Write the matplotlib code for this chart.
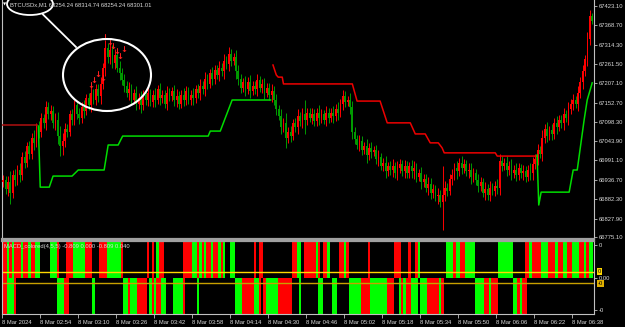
import matplotlib
matplotlib.use("Agg")
import matplotlib.pyplot as plt
from matplotlib.patches import Ellipse
import numpy as np

# ---- data (1 bar = 1 minute, 02:38 .. 06:46) ----
first_open = 66930
closes = [
    66936, 66910, 66930, 66900, 66950, 66935, 66965, 66950, 67000, 66985,
    67030, 67010, 67055, 67040, 67085, 67070, 67110, 67095, 67140, 67120,
    67130, 67095, 67105, 67060, 67030, 67045, 67080, 67070, 67120, 67105,
    67145, 67120, 67110, 67140, 67130, 67165, 67145, 67180, 67160, 67190,
    67170, 67205, 67250, 67305, 67280, 67300, 67265, 67285, 67250, 67235,
    67215, 67200, 67180, 67190, 67160, 67180, 67150, 67165, 67145, 67175,
    67160, 67180, 67155, 67175, 67160, 67190, 67165, 67175, 67150, 67180,
    67170, 67185, 67160, 67170, 67150, 67175, 67160, 67185, 67160, 67175,
    67165, 67190, 67180, 67200, 67190, 67220, 67205, 67235, 67220, 67245,
    67230, 67250, 67240, 67270, 67260, 67290, 67270, 67280, 67240, 67220,
    67195, 67210, 67190, 67210, 67185, 67200, 67190, 67215, 67195, 67205,
    67180, 67195, 67175, 67185, 67160, 67135, 67115, 67085, 67095, 67055,
    67070, 67060, 67095, 67085, 67115, 67100, 67120, 67105, 67125, 67110,
    67120, 67100, 67125, 67110, 67120, 67105, 67125, 67110, 67125, 67115,
    67135, 67125, 67150, 67170, 67155, 67160, 67140, 67070, 67050, 67035,
    67045, 67020, 67030, 67005, 67025, 67015, 67020, 66995, 67000, 66975,
    66985, 66960, 66975, 66965, 66975, 66955, 66970, 66980, 66960, 66975,
    66955, 66975, 66960, 66970, 66945, 66955, 66930, 66940, 66915, 66925,
    66900, 66910, 66890, 66895, 66875, 66895, 66915, 66905, 66940, 66950,
    66970, 66960, 66985, 66970, 66980, 66960, 66965, 66945, 66955, 66935,
    66920, 66930, 66900, 66910, 66895, 66915, 66905, 66920, 66915, 66990,
    66975, 66985, 66965, 66975, 66955, 66965, 66950, 66970, 66955, 66960,
    66945, 66965, 66955, 66980, 66995, 67020, 67010, 67055, 67080, 67060,
    67075, 67065, 67095, 67085, 67105, 67095, 67120, 67110, 67135, 67150,
    67160, 67150, 67180, 67210, 67240, 67275, 67330, 67395, 67380,
]
wicks = [
    14, 12, 18, 30, 14, 16, 12, 20, 14, 16,
    12, 16, 14, 20, 12, 16, 14, 12, 18, 14,
    16, 12, 20, 22, 28, 24, 16, 14, 12, 16,
    14, 12, 18, 14, 20, 12, 14, 18, 12, 14,
    16, 20, 14, 22, 16, 20, 14, 18, 12, 20,
    14, 18, 12, 20, 14, 12, 18, 14, 20, 12,
    14, 18, 12, 14, 20, 12, 18, 14, 12, 18,
    14, 12, 18, 20, 14, 12, 18, 14, 12, 14,
    18, 12, 14, 20, 12, 18, 14, 12, 18, 14,
    12, 18, 14, 20, 12, 18, 14, 12, 20, 18,
    14, 12, 18, 14, 20, 12, 14, 18, 12, 14,
    18, 12, 14, 20, 14, 18, 12, 20, 14, 30,
    14, 18, 12, 14, 20, 12, 18, 40, 14, 12,
    18, 14, 12, 20, 14, 12, 18, 14, 12, 18,
    14, 20, 12, 18, 14, 12, 20, 18, 14, 12,
    18, 14, 12, 20, 14, 18, 12, 14, 20, 12,
    14, 18, 12, 14, 20, 12, 18, 14, 12, 18,
    14, 12, 18, 20, 14, 12, 18, 14, 12, 20,
    18, 14, 12, 20, 14, 80, 18, 14, 12, 18,
    14, 20, 12, 18, 14, 12, 18, 20, 14, 12,
    18, 14, 12, 20, 14, 18, 12, 14, 18, 20,
    14, 12, 18, 14, 20, 12, 18, 14, 12, 18,
    14, 12, 18, 20, 14, 18, 12, 20, 14, 18,
    12, 18, 14, 20, 12, 14, 18, 12, 20, 14,
    18, 12, 20, 14, 18, 12, 20, 16, 8,
]

# trailing stop lines (bar, price) vertices
red_old = [(-0.5, 67090), (14.4, 67090)]
green_a = [(14.8, 67087), (15.6, 66916), (19.4, 66916), (21.0, 66947), (29.0, 66947),
           (31.6, 66964), (42.5, 66964), (44.2, 67034), (48.4, 67034), (50.3, 67059),
           (86.3, 67059), (87.2, 67073), (91.4, 67073), (96.4, 67160), (112.6, 67160)]
red_b = [(113.6, 67258), (115.0, 67230), (115.8, 67224), (117.5, 67224), (118.0, 67205),
         (147.0, 67205), (149.0, 67157), (158.7, 67157), (161.7, 67096), (171.4, 67096),
         (173.5, 67065), (177.7, 67065), (179.8, 67040), (183.2, 67040), (184.8, 67026),
         (185.7, 67012), (207.2, 67012), (208.0, 67003), (224.8, 67003)]
green_b = [(224.8, 67006), (225.5, 66866), (226.5, 66902), (238.3, 66902), (240.0, 66964),
           (241.7, 66964), (244.6, 67104), (245.9, 67160), (248.0, 67208)]

# sell arrows (bar, price)
arrow_bar = [37, 38, 40, 42, 43, 45, 46, 48, 49, 51]
arrow_px = [67200, 67215, 67232, 67220, 67335, 67322, 67310, 67295, 67282, 67300]

price_ticks = [67423.10, 67368.70, 67314.30, 67261.50, 67207.10, 67152.70, 67098.30,
               67043.90, 66991.10, 66936.70, 66882.30, 66827.90, 66775.10]
time_labels = ["8 Mar 2024", "8 Mar 02:54", "8 Mar 03:10", "8 Mar 03:26", "8 Mar 03:42",
               "8 Mar 03:58", "8 Mar 04:14", "8 Mar 04:30", "8 Mar 04:46", "8 Mar 05:02",
               "8 Mar 05:18", "8 Mar 05:34", "8 Mar 05:50", "8 Mar 06:06", "8 Mar 06:22",
               "8 Mar 06:38"]

# MACD histogram: upper (positive) and lower (negative) rows, g=lime r=red .=none
macd_up = ("rrgrgrrrgr" "rgrrgg...." "gggr...rrr" "gggggrrr.." ".rrrgggggg"
           "r........." ".r.r.grr.." "......rrrr" "ggrgrgrrgr" "rgrg..gg.."
           "......r.rr" ".........." "..rrgg.rrr" "rrgr.rrg.." "..rrgr...."
           "....r....." ".....rrr.." ".r..rg...." ".......ggg" "rggrrgggg."
           ".........g" "ggggg....." "rrgrrrrggg" "rrrgrrggrr" "gggrrgrgg")
macd_dn = ("rrgggr...." ".........." "...gggrr.." "........g." ".........."
           ".ggrgggrrr" "r.grgrrgg." "..ggggr..." "..g......." "........gg"
           "grrrrrggr." "rgggggrrrr" "rr...g...." "...gg....g" "g.....gggg"
           "grrrrggggg" "ggrrr..grg" "rrggg.gggr" "rrrrgr...." ".........g"
           "gggrrgrrr." ".....ggrgr" "r........." ".........." ".........")

# ---- figure ----
W, H = 625, 327
plt.rcParams["font.family"] = ["Liberation Sans", "DejaVu Sans"]
fig = plt.figure(figsize=(W / 100, H / 100), dpi=100, facecolor="black")
FS = 4.2
TXT = "#d8d8d8"

ax = fig.add_axes([2 / W, (H - 239) / H, 592 / W, 239 / H], facecolor="black")
ax2 = fig.add_axes([2 / W, (H - 314) / H, 592 / W, 73 / H], facecolor="black")

n = len(closes)
idx = np.arange(n)
c = np.array(closes, float)
o = np.concatenate([[first_open], c[:-1]])
w = np.array(wicks, float)
hi = np.maximum(o, c) + w
lo = np.minimum(o, c) - w
up = c >= o
col = np.where(up, "#ff0000", "#009a00")

ax.vlines(idx, lo, hi, colors=col, lw=0.7, zorder=2)
ax.bar(idx, np.maximum(np.abs(c - o), 1.5), bottom=np.minimum(o, c), width=0.72,
       color=col, lw=0, zorder=3)

for pts, clr in [(red_old, "#b01010"), (green_a, "#00dd00"), (red_b, "#ee0000"), (green_b, "#00dd00")]:
    xs, ys = zip(*pts)
    ax.plot(xs, ys, color=clr, lw=1.1, zorder=4)

for b, p in zip(arrow_bar, arrow_px):
    ax.text(b, p, "\u2193", color="#ff2020", fontsize=6, fontweight="bold",
            ha="center", va="center", family="DejaVu Sans", zorder=5)

ax.set_xlim(-0.5, 248.76)
ax.set_ylim(67440 - 2.8 * 239, 67440)
ax.yaxis.tick_right()
ax.set_yticks(price_ticks)
ax.set_yticklabels([f"{p:.2f}" for p in price_ticks])
ax.tick_params(axis="y", colors="#c0c0c0", labelcolor=TXT, labelsize=FS, length=2.5, width=0.6, pad=0.8)
ax.set_xticks([])
ax.spines["top"].set_visible(False)
ax.spines["left"].set_color("#c0c0c0")
ax.spines["right"].set_color("#c0c0c0")
ax.spines["bottom"].set_color("#a0a0a0")
ax.spines["bottom"].set_linewidth(1.6)

# indicator panel
for k, (u, d) in enumerate(zip(macd_up, macd_dn)):
    if u != ".":
        ax2.bar(k, 1, width=1.0, bottom=0, color="#00ff00" if u == "g" else "#ff0000", lw=0)
    if d != ".":
        ax2.bar(k, -1, width=1.0, bottom=0, color="#00ff00" if d == "g" else "#ff0000", lw=0)
ax2.axhline(0.16, color="#ffd700", lw=1.0)
ax2.axhline(-0.16, color="#c8a000", lw=1.0)
ax2.set_xlim(-0.5, 248.76)
ax2.set_ylim(-1.0, 1.0)
ax2.yaxis.tick_right()
ax2.set_yticks([0.9, 0.0, -0.9])
ax2.set_yticklabels(["0", "0.00", "-0"])
ax2.tick_params(axis="y", colors="#c0c0c0", labelcolor=TXT, labelsize=FS, length=2.5, width=0.6, pad=0.8)
ax2.text(1.006, 0.16, "0", transform=ax2.get_yaxis_transform(), fontsize=FS, color="black",
         va="center", ha="left", bbox=dict(boxstyle="square,pad=0.15", fc="#ffd700", ec="none"))
ax2.text(1.006, -0.16, "-0", transform=ax2.get_yaxis_transform(), fontsize=FS, color="black",
         va="center", ha="left", bbox=dict(boxstyle="square,pad=0.15", fc="#e0b000", ec="none"))
ax2.set_xticks(np.arange(len(time_labels)) * 16 - 0.5)
ax2.set_xticklabels(time_labels)
ax2.tick_params(axis="x", colors="#c0c0c0", labelcolor=TXT, labelsize=FS, length=3, width=0.6, pad=1)
for lab in ax2.get_xticklabels():
    lab.set_ha("left")
ax2.spines["top"].set_color("#a0a0a0")
ax2.spines["top"].set_linewidth(1.6)
for s in ["left", "right", "bottom"]:
    ax2.spines[s].set_color("#c0c0c0")
ax2.text(0.004, 0.93, "MACD_colored(4,5,5) -0.809 0.000 -0.809 0.040", transform=ax2.transAxes,
         fontsize=FS, color=TXT, va="center", ha="left")

# overlay annotations drawn on the screenshot
ov = fig.add_axes([0, 0, 1, 1])
ov.set_xlim(0, W)
ov.set_ylim(H, 0)
ov.axis("off")
ov.patch.set_alpha(0)
ov.text(2.5, 5, "\u25bc", fontsize=3, color="white", va="center", ha="left", family="DejaVu Sans")
ov.text(9.5, 5, "BTCUSDx,M1 68254.24 68314.74 68254.24 68301.01", fontsize=FS, color=TXT,
        va="center", ha="left")
ov.add_patch(Ellipse((30, 4), 46, 22, fill=False, ec="white", lw=1.3))
ov.plot([43, 76], [14.5, 47], color="white", lw=1.3)
ov.add_patch(Ellipse((107, 75), 88, 72, fill=False, ec="white", lw=1.5))

fig.savefig("out.png", dpi=100, facecolor="black")
